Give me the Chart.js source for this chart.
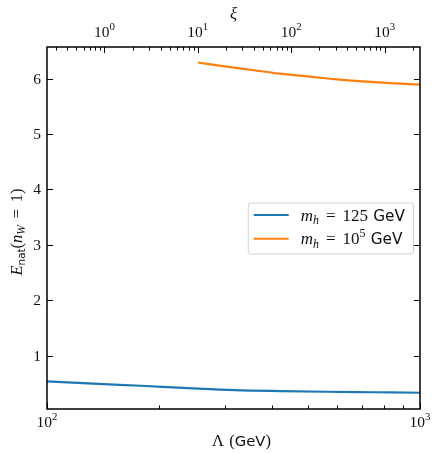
<!DOCTYPE html>
<html>
<head>
<meta charset="utf-8">
<script src="https://cdn.jsdelivr.net/npm/chart.js@4.4.1/dist/chart.umd.min.js"></script>
<style>
  html, body { margin: 0; padding: 0; background: #fff; }
  #wrap { width: 434px; height: 453px; }
</style>
</head>
<body>
<div id="wrap"><canvas id="chart"></canvas></div>
<script>
// data
var lambdaLow = [100, 133, 178, 239, 319, 424, 561, 750, 1000];
var energyLow = [0.539, 0.497, 0.459, 0.418, 0.382, 0.364, 0.351, 0.342, 0.333];
var lambdaHigh = [254, 300, 350, 420, 500, 590, 688, 830, 1000];
var energyHigh = [6.29, 6.22, 6.16, 6.09, 6.04, 5.99, 5.955, 5.92, 5.89];
var seriesLabels = ['m_h = 125 GeV', 'm_h = 10^5 GeV'];
var lambdaTicks = [100, 1000];
var xiTicks = [1, 10, 100, 1000];
var energyTicks = [1, 2, 3, 4, 5, 6];
var lambdaRange = [100, 1000];
var xiRange = [0.2427, 2393];
var energyRange = [0.04, 6.57];
var xTitle = 'Λ (GeV)';
var topTitle = 'ξ';
var yTitle = 'E_{nat}(n_W = 1)';

var colors = ['#1f77b4', '#ff7f0e'];
var SERIF = '"Liberation Serif", "DejaVu Serif", serif';
var SANS = '"DejaVu Sans", sans-serif';
var TICK_FS = 15.5, LABEL_FS = 16.5, LEGEND_FS = 17;

function expLabel(v) {
  return '10^{' + Math.round(Math.log10(v)) + '}';
}

// tiny mathtext: _x / ^x (or {..}), single letters italic, words sans
function parseRich(s) {
  var out = [], i = 0, buf = '';
  while (i < s.length) {
    var c = s[i];
    if (c === '_' || c === '^') {
      if (buf) { out.push({ t: buf, k: 0 }); buf = ''; }
      var t;
      if (s[i + 1] === '{') { var j = s.indexOf('}', i); t = s.slice(i + 2, j); i = j + 1; }
      else { t = s[i + 1]; i += 2; }
      out.push({ t: t, k: c === '_' ? -1 : 1 });
    } else { buf += c; i++; }
  }
  if (buf) out.push({ t: buf, k: 0 });
  return out;
}

function richRuns(ctx, s, size) {
  var runs = [];
  parseRich(s).forEach(function (seg) {
    var sz = seg.k ? size * 0.7 : size;
    var dy = seg.k < 0 ? size * 0.2 : (seg.k > 0 ? -size * 0.42 : 0);
    (seg.t.match(/[A-Za-z]{2,}|./g) || []).forEach(function (tok) {
      var font, pad = 0;
      if (tok.length > 1) font = (sz * 0.9).toFixed(1) + 'px ' + SANS;
      else if (/[A-Za-zα-ω]/.test(tok)) font = 'italic ' + sz + 'px ' + SERIF;
      else font = sz + 'px ' + SERIF;
      if (tok === '=') pad = sz * 0.1;
      if (tok === ' ') pad = sz * 0.03;
      ctx.font = font;
      runs.push({ t: tok, font: font, dy: dy, pad: pad, w: ctx.measureText(tok).width + 2 * pad });
    });
  });
  return runs;
}

function richWidth(ctx, s, size) {
  return richRuns(ctx, s, size).reduce(function (w, r) { return w + r.w; }, 0);
}

function drawRich(ctx, s, x, y, size, align) {
  var runs = richRuns(ctx, s, size);
  var w = runs.reduce(function (acc, r) { return acc + r.w; }, 0);
  var cx = align === 'center' ? x - w / 2 : (align === 'right' ? x - w : x);
  ctx.textBaseline = 'alphabetic';
  ctx.textAlign = 'left';
  runs.forEach(function (r) { ctx.font = r.font; ctx.fillText(r.t, cx + r.pad, y + r.dy); cx += r.w; });
  return w;
}

var decorPlugin = {
  id: 'decor',
  afterDraw: function (chart) {
    var ctx = chart.ctx, a = chart.chartArea;
    var sx = chart.scales.x, st = chart.scales.x2, sy = chart.scales.y;
    ctx.save();
    ctx.strokeStyle = '#000';
    ctx.fillStyle = '#111';
    ctx.lineWidth = 1;

    function seg(x1, y1, x2, y2) {
      ctx.beginPath(); ctx.moveTo(x1, y1); ctx.lineTo(x2, y2); ctx.stroke();
    }
    // bottom axis: major + minor, pointing in
    for (var d = 100; d < 1000; d *= 10) {
      for (var m = 1; m <= 10; m++) {
        var v = d * m;
        if (v < lambdaRange[0] || v > lambdaRange[1]) continue;
        var px = Math.round(sx.getPixelForValue(v)) + 0.5;
        seg(px, a.bottom, px, a.bottom - (m === 1 || m === 10 ? 6 : 3.5));
      }
    }
    // top axis
    for (var e = -1; e <= 3; e++) {
      for (var k = 1; k <= 9; k++) {
        var w = k * Math.pow(10, e);
        if (w < xiRange[0] || w > xiRange[1]) continue;
        var tx = Math.round(st.getPixelForValue(w)) + 0.5;
        seg(tx, a.top, tx, a.top + (k === 1 ? 6 : 3.5));
      }
    }
    // left and right
    energyTicks.forEach(function (v) {
      var py = Math.round(sy.getPixelForValue(v)) + 0.5;
      seg(a.left, py, a.left + 6, py);
      seg(a.right, py, a.right - 6, py);
    });

    // frame
    ctx.lineWidth = 1.5;
    ctx.strokeRect(a.left, a.top, a.right - a.left, a.bottom - a.top);

    // tick labels
    lambdaTicks.forEach(function (v) {
      drawRich(ctx, expLabel(v), sx.getPixelForValue(v), a.bottom + 18, TICK_FS, 'center');
    });
    xiTicks.forEach(function (v) {
      drawRich(ctx, expLabel(v), st.getPixelForValue(v), a.top - 10, TICK_FS, 'center');
    });
    energyTicks.forEach(function (v) {
      drawRich(ctx, String(v), a.left - 6, sy.getPixelForValue(v) + 5, TICK_FS, 'right');
    });

    // axis titles
    var cxm = (a.left + a.right) / 2, cym = (a.top + a.bottom) / 2;
    drawRich(ctx, xTitle, cxm + 8, a.bottom + 37, LABEL_FS, 'center');
    drawRich(ctx, topTitle, cxm, a.top - 28, LABEL_FS, 'center');
    ctx.save();
    ctx.translate(a.left - 25.5, cym + 4);
    ctx.rotate(-Math.PI / 2);
    drawRich(ctx, yTitle, 0, 0, LABEL_FS, 'center');
    ctx.restore();

    // legend, centre right
    var pad = 6, lineLen = 35, gap = 12, rowH = 23.7;
    var tw = 0;
    seriesLabels.forEach(function (s) { tw = Math.max(tw, richWidth(ctx, s, LEGEND_FS)); });
    var bw = pad + lineLen + gap + tw + pad + 2;
    var bh = 51;
    var bx = a.right - 7 - bw, by = cym - bh / 2;
    ctx.beginPath();
    ctx.roundRect(bx + 0.5, by + 0.5, bw, bh, 3);
    ctx.fillStyle = 'rgba(255,255,255,0.8)';
    ctx.fill();
    ctx.strokeStyle = '#d0d0d0';
    ctx.lineWidth = 1;
    ctx.stroke();
    seriesLabels.forEach(function (s, i) {
      var ly = by + 12.5 + i * rowH;
      ctx.strokeStyle = colors[i];
      ctx.lineWidth = 2;
      seg(bx + pad, ly, bx + pad + lineLen, ly);
      ctx.fillStyle = '#111';
      drawRich(ctx, s, bx + pad + lineLen + gap, ly + 5.5, LEGEND_FS, 'left');
    });
    ctx.restore();
  }
};

function series(xs, ys) {
  return xs.map(function (x, i) { return { x: x, y: ys[i] }; });
}

function hiddenAxis(extra) {
  var base = {
    grid: { display: false, drawTicks: false },
    border: { display: false },
    ticks: { display: false }
  };
  for (var key in extra) base[key] = extra[key];
  return base;
}

new Chart(document.getElementById('chart'), {
  type: 'line',
  data: {
    datasets: [
      { label: seriesLabels[0], data: series(lambdaLow, energyLow), borderColor: colors[0] },
      { label: seriesLabels[1], data: series(lambdaHigh, energyHigh), borderColor: colors[1] }
    ]
  },
  options: {
    responsive: true,
    maintainAspectRatio: false,
    animation: false,
    layout: { padding: { left: 0, right: 14, top: 0, bottom: 0 } },
    elements: {
      point: { radius: 0 },
      line: { borderWidth: 2.2, cubicInterpolationMode: 'monotone', fill: false }
    },
    plugins: { legend: { display: false }, tooltip: { enabled: false } },
    scales: {
      x: hiddenAxis({
        type: 'logarithmic', position: 'bottom',
        min: lambdaRange[0], max: lambdaRange[1],
        afterFit: function (s) { s.height = 44; s.paddingLeft = 0; s.paddingRight = 0; }
      }),
      x2: hiddenAxis({
        type: 'logarithmic', axis: 'x', position: 'top',
        min: xiRange[0], max: xiRange[1],
        afterFit: function (s) { s.height = 47; s.paddingLeft = 0; s.paddingRight = 0; }
      }),
      y: hiddenAxis({
        type: 'linear', min: energyRange[0], max: energyRange[1],
        afterFit: function (s) { s.width = 47; s.paddingTop = 0; s.paddingBottom = 0; }
      })
    }
  },
  plugins: [decorPlugin]
});
</script>
</body>
</html>
